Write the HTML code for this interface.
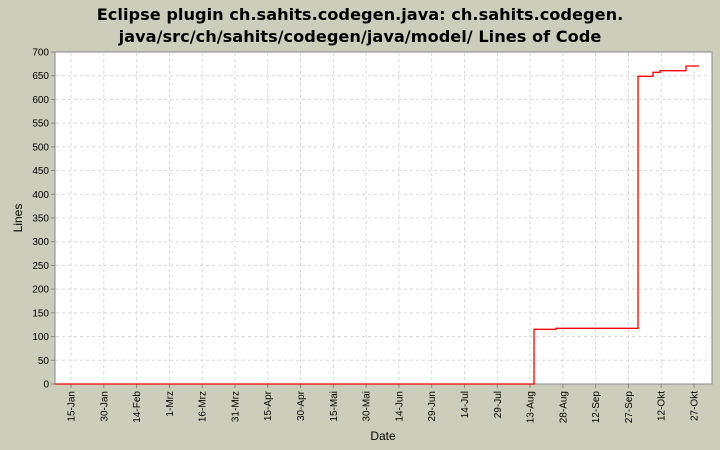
<!DOCTYPE html>
<html><head><meta charset="utf-8"><style>
body{margin:0;background:#cdcdbb;}
svg{display:block;font-family:"Liberation Sans","DejaVu Sans",sans-serif;}
</style></head><body>
<svg width="720" height="450" viewBox="0 0 720 450">
<rect width="720" height="450" fill="#cdcdbb"/>
<text x="360" y="20" text-anchor="middle" font-size="16.2" font-weight="bold" font-family="DejaVu Sans, sans-serif">Eclipse plugin ch.sahits.codegen.java: ch.sahits.codegen.</text>
<text x="360" y="42" text-anchor="middle" font-size="16.2" font-weight="bold" font-family="DejaVu Sans, sans-serif">java/src/ch/sahits/codegen/java/model/ Lines of Code</text>
<rect x="55" y="52" width="657" height="332" fill="#fff" stroke="#888"/>
<g id="grid" stroke="#d8d8d8" stroke-dasharray="3,3" stroke-width="1"></g>
<g id="yt" font-size="10" text-anchor="end" fill="#000"></g>
<g id="xt" font-size="10" fill="#000"></g>
<polyline fill="none" stroke="#ff0000" stroke-width="1.3" points="55,384 534,384 534,329.3 556,329.3 556,328.3 638,328.3 638,76.3 653,76.3 653,72.3 660,72.3 660,70.7 686,70.7 686,66 699,66"/>
<text x="22" y="218" font-size="12" text-anchor="middle" transform="rotate(-90 22 218)">Lines</text>
<text x="383" y="440" font-size="12" text-anchor="middle">Date</text>
</svg>
<script>
var ns="http://www.w3.org/2000/svg";
function el(t,a,p,txt){var e=document.createElementNS(ns,t);for(var k in a)e.setAttribute(k,a[k]);if(txt)e.textContent=txt;document.getElementById(p).appendChild(e);}
for(var v=0;v<=700;v+=50){var y=384-v*332/700;
 if(v>0&&v<700)el("line",{x1:56,x2:711,y1:y,y2:y},"grid");
 el("line",{x1:51,x2:55,y1:y,y2:y,stroke:"#888"},"yt");
 el("text",{x:49,y:y+3.5},"yt",String(v));}
var L=["15-Jan","30-Jan","14-Feb","1-Mrz","16-Mrz","31-Mrz","15-Apr","30-Apr","15-Mai","30-Mai","14-Jun","29-Jun","14-Jul","29-Jul","13-Aug","28-Aug","12-Sep","27-Sep","12-Okt","27-Okt"];
for(var i=0;i<L.length;i++){var x=71+i*32.79;
 el("line",{x1:x,x2:x,y1:53,y2:383},"grid");
 el("line",{x1:x,x2:x,y1:384,y2:388,stroke:"#888"},"xt");
 el("text",{x:x+3.5,y:391,"text-anchor":"end",transform:"rotate(-90 "+(x+3.5)+" 391)"},"xt",L[i]);}
</script>
</body></html>
